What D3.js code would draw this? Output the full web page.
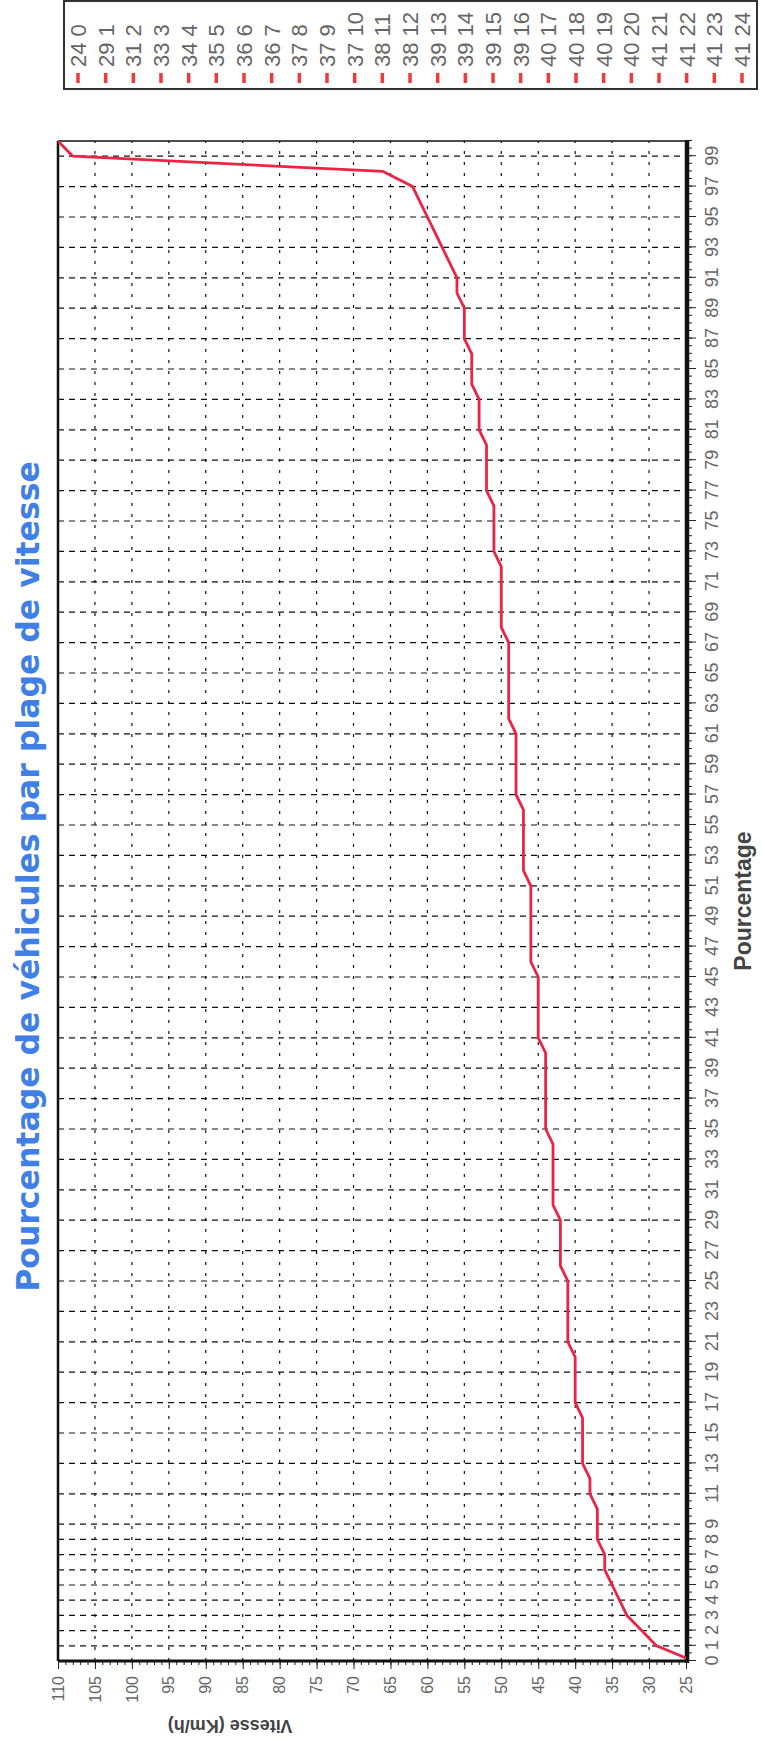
<!DOCTYPE html>
<html>
<head>
<meta charset="utf-8">
<script src="https://cdn.jsdelivr.net/npm/d3@7"></script>
<style>
body { margin: 0; background: #fff; }
</style>
</head>
<body>
<script>
// data: speed (km/h) reached at each percentage of vehicles
var percents = d3.range(0, 101);
var speeds = [24,29,31,33,34,35,36,36,37,37,37,38,38,39,39,39,39,40,40,40,
              40,41,41,41,41,41,42,42,42,42,43,43,43,43,43,44,44,44,44,44,
              44,45,45,45,45,45,46,46,46,46,46,46,47,47,47,47,47,48,48,48,
              48,48,49,49,49,49,49,49,50,50,50,50,50,51,51,51,51,52,52,52,
              52,53,53,53,54,54,54,55,55,55,56,56,57,58,59,60,61,62,66,108,
              110];
var speedTicks = d3.range(25, 111, 5);
var percentTicks = d3.range(0, 10).concat(d3.range(11, 100, 2));
var legendPercents = d3.range(0, 25);

var pageW = 762, pageH = 1753;
// the chart is drawn lying on its side: inner frame is pageH wide, pageW high
var W = pageH, H = pageW;

var svg = d3.select("body").append("svg")
    .attr("width", pageW)
    .attr("height", pageH);

var g = svg.append("g")
    .attr("transform", "translate(0," + pageH + ") rotate(-90)");

var x = d3.scaleLinear().domain([0, 100]).range([92, 1612]);
var y = d3.scaleLinear().domain([25, 110]).range([686, 58]);

g.append("clipPath").attr("id", "plotclip")
  .append("rect")
    .attr("x", x(0)).attr("y", y(110))
    .attr("width", x(100) - x(0)).attr("height", y(25) - y(110));

// grid
g.append("g").selectAll("line")
    .data(percentTicks.filter(function(d) { return d > 0; }))
    .enter().append("line")
    .attr("x1", function(d) { return x(d); })
    .attr("x2", function(d) { return x(d); })
    .attr("y1", y(110)).attr("y2", y(25))
    .attr("stroke", "#111")
    .attr("stroke-width", 1.2)
    .attr("stroke-dasharray", "6,5");

g.append("g").selectAll("line")
    .data(speedTicks.filter(function(d) { return d > 25 && d < 110; }))
    .enter().append("line")
    .attr("x1", x(0)).attr("x2", x(100))
    .attr("y1", function(d) { return y(d); })
    .attr("y2", function(d) { return y(d); })
    .attr("stroke", "#111")
    .attr("stroke-width", 1.2)
    .attr("stroke-dasharray", "3,8");

// minor ticks
g.append("g")
    .attr("transform", "translate(0," + (y(25) + 2) + ")")
    .call(d3.axisBottom(x).tickValues(d3.range(0, 100.1, 0.5)).tickSize(4).tickFormat(""))
    .call(function(a) { a.select(".domain").remove(); a.selectAll("line").attr("stroke", "#222"); });

g.append("g")
    .attr("transform", "translate(" + x(0) + ",0)")
    .call(d3.axisLeft(y).tickValues(d3.range(25, 111, 1)).tickSize(4).tickFormat(""))
    .call(function(a) { a.select(".domain").remove(); a.selectAll("line").attr("stroke", "#222"); });

// major axes
var xAxis = g.append("g")
    .attr("transform", "translate(0," + (y(25) + 2) + ")")
    .call(d3.axisBottom(x).tickValues(percentTicks).tickSize(8).tickPadding(9));
xAxis.select(".domain").remove();
xAxis.selectAll("line").attr("stroke", "#222");
xAxis.selectAll("text")
    .attr("fill", "#666")
    .style("font-family", "Liberation Sans, Arial, sans-serif")
    .style("font-size", "18px");

var yAxis = g.append("g")
    .attr("transform", "translate(" + x(0) + ",0)")
    .call(d3.axisLeft(y).tickValues(speedTicks).tickSize(8).tickPadding(7));
yAxis.select(".domain").remove();
yAxis.selectAll("line").attr("stroke", "#222");
yAxis.selectAll("text")
    .attr("fill", "#666")
    .style("font-family", "Liberation Sans, Arial, sans-serif")
    .style("font-size", "16px");

// plot frame
g.append("line").attr("x1", x(0)).attr("x2", x(100)).attr("y1", y(110)).attr("y2", y(110))
    .attr("stroke", "#111").attr("stroke-width", 2.5);
g.append("line").attr("x1", x(100)).attr("x2", x(100)).attr("y1", y(110)).attr("y2", y(25))
    .attr("stroke", "#111").attr("stroke-width", 1.5);
g.append("line").attr("x1", x(0) - 2).attr("x2", x(100) + 1).attr("y1", y(25) + 1).attr("y2", y(25) + 1)
    .attr("stroke", "#111").attr("stroke-width", 4.5);
g.append("line").attr("x1", x(0)).attr("x2", x(0)).attr("y1", y(110)).attr("y2", y(25) + 3)
    .attr("stroke", "#111").attr("stroke-width", 3);

// curve
var line = d3.line()
    .x(function(d, i) { return x(percents[i]); })
    .y(function(d) { return y(d); });

g.append("path")
    .datum(speeds)
    .attr("clip-path", "url(#plotclip)")
    .attr("d", line)
    .attr("fill", "none")
    .attr("stroke", "#ec2444")
    .attr("stroke-width", 2.8)
    .attr("stroke-linejoin", "round");

// titles
g.append("text")
    .attr("x", W / 2).attr("y", 39)
    .attr("text-anchor", "middle")
    .style("font-family", "DejaVu Sans, sans-serif")
    .style("font-weight", "bold")
    .style("font-size", "31.5px")
    .attr("fill", "#3f7fe6")
    .text("Pourcentage de véhicules par plage de vitesse");

g.append("text")
    .attr("x", (x(0) + x(100)) / 2).attr("y", 751)
    .attr("text-anchor", "middle")
    .style("font-family", "Liberation Sans, Arial, sans-serif")
    .style("font-weight", "bold")
    .style("font-size", "23px")
    .attr("fill", "#444")
    .text("Pourcentage");

g.append("text")
    .attr("transform", "translate(33,230) rotate(-90)")
    .attr("text-anchor", "middle")
    .style("font-family", "Liberation Sans, Arial, sans-serif")
    .style("font-weight", "bold")
    .style("font-size", "18px")
    .attr("fill", "#444")
    .text("Vitesse (Km/h)");

// legend (cut by the page edge)
var ly = d3.scaleLinear().domain([0, 24]).range([78, 742]);
g.append("rect")
    .attr("x", 1664).attr("y", 64)
    .attr("width", 88).attr("height", 693)
    .attr("fill", "#fff")
    .attr("stroke", "#333")
    .attr("stroke-width", 2);

var items = g.append("g").selectAll("g")
    .data(legendPercents)
    .enter().append("g")
    .attr("transform", function(d) { return "translate(1670," + ly(d) + ")"; });

items.append("line")
    .attr("x1", 0).attr("x2", 10)
    .attr("stroke", "#f03a3a")
    .attr("stroke-width", 3.5);

items.append("text")
    .attr("x", 16).attr("dy", "0.36em")
    .style("font-family", "Liberation Sans, Arial, sans-serif")
    .style("font-size", "22px")
    .attr("fill", "#666")
    .text(function(d) { return speeds[d] + " " + d; });
</script>
</body>
</html>
